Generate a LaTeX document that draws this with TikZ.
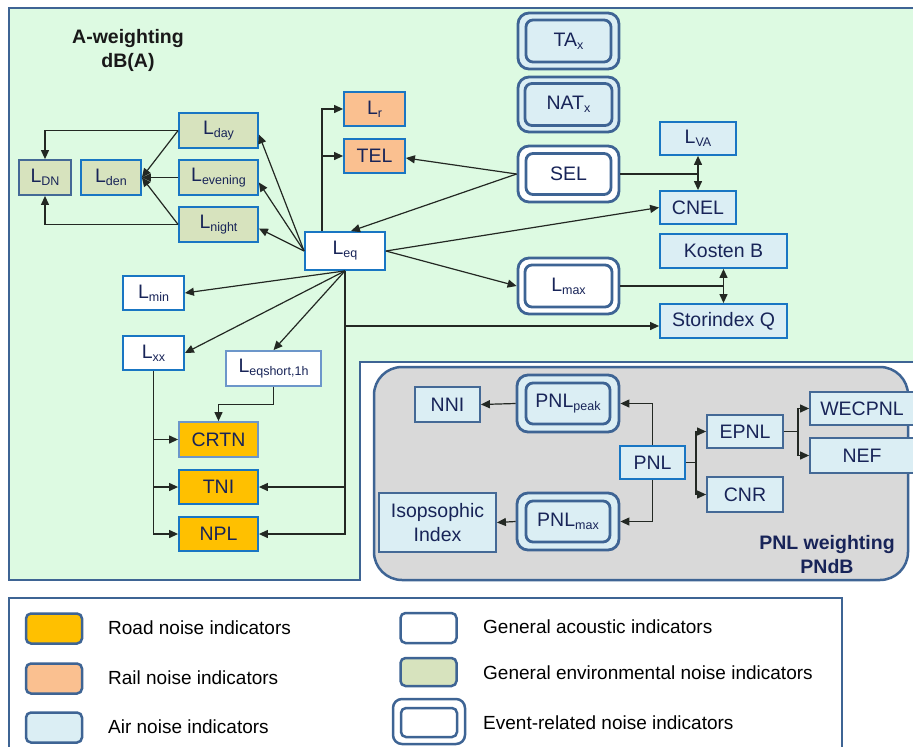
\documentclass[tikz,border=0pt]{standalone}
\usepackage{fontspec}
\setmainfont{Liberation Sans}
\usetikzlibrary{arrows.meta,calc}
\definecolor{bggreen}{RGB}{221,250,226}
\definecolor{reg}{RGB}{62,100,148}
\definecolor{graybg}{RGB}{217,217,217}
\definecolor{bblue}{RGB}{25,118,195}
\definecolor{lblue}{RGB}{108,150,202}
\definecolor{steel}{RGB}{68,105,150}
\definecolor{navy}{RGB}{24,36,88}
\definecolor{envf}{RGB}{215,227,190}
\definecolor{railf}{RGB}{250,192,144}
\definecolor{roadf}{RGB}{255,192,0}
\definecolor{airf}{RGB}{219,238,244}
\definecolor{linec}{RGB}{35,40,35}
\newcommand{\sbs}[1]{\raisebox{-3pt}{\fontsize{12.5}{13}\selectfont #1}}
\begin{document}
\begin{tikzpicture}[x=1pt,y=-1pt,
  box/.style={draw, rectangle, inner sep=0pt, line width=1.8pt, text=navy, font=\fontsize{19.5}{22}\selectfont, align=center},
  bb/.style={box, draw=bblue},
  lb/.style={box, draw=lblue},
  sb/.style={box, draw=steel},
  evo/.style={draw=reg, rectangle, line width=2.8pt, rounded corners=11pt, inner sep=0pt},
  evi/.style={draw=reg, rectangle, line width=2.8pt, rounded corners=7pt, inner sep=0pt, text=navy, font=\fontsize{19.5}{22}\selectfont},
  arr/.style={draw=linec, line width=1.2pt, -{Triangle[length=9pt,width=8pt]}},
  dbl/.style={draw=linec, line width=1.2pt, {Triangle[length=9pt,width=8pt]}-{Triangle[length=9pt,width=8pt]}},
  ln/.style={draw=linec, line width=1.2pt},
  sw/.style={draw=reg, rectangle, line width=2.5pt, rounded corners=5pt, minimum width=56pt, minimum height=30pt, inner sep=0pt},
  lg/.style={anchor=west, font=\fontsize{19}{22}\selectfont, text=black, inner sep=0pt},
  ttl/.style={font=\bfseries\fontsize{19.5}{24}\selectfont, align=center, inner sep=0pt}
]
\useasboundingbox (0,0) rectangle (913,747);
\clip (0,0) rectangle (913,747);
\fill[white] (0,0) rectangle (913,747);
% regions
\fill[bggreen] (9,8) -- (920,8) -- (920,362) -- (360,362) -- (360,580) -- (9,580) -- cycle;
\draw[reg, line width=2.5pt] (920,8) -- (9,8) -- (9,580) -- (360,580) -- (360,362) -- (920,362);
\draw[reg, line width=2.5pt, fill=graybg, rounded corners=28pt] (374,367) rectangle (908,580);
\draw[reg, line width=2.5pt] (9,598) rectangle (842,770);

\node[ttl, text=black!90] (tA) at (128,50) {A-weighting\\dB(A)};
\node[ttl, text=navy] (tP) at (827,555) {PNL weighting\\PNdB};

% A-weighting nodes
\node[sb, fill=envf, minimum width=52pt, minimum height=35pt] (ldn) at (45,177.5) {L\sbs{DN}};
\node[bb, fill=envf, minimum width=60pt, minimum height=35pt] (lden) at (111,177.5) {L\sbs{den}};
\node[bb, fill=envf, minimum width=79pt, minimum height=35pt] (lday) at (218.5,130.5) {L\sbs{day}};
\node[bb, fill=envf, minimum width=79pt, minimum height=35pt] (leve) at (218.5,177.5) {L\sbs{evening}};
\node[bb, fill=envf, minimum width=79pt, minimum height=35pt] (lnight) at (218.5,224.5) {L\sbs{night}};
\node[bb, fill=railf, minimum width=61pt, minimum height=34pt] (lr) at (374.5,109) {L\sbs{r}};
\node[bb, fill=railf, minimum width=61pt, minimum height=34pt] (tel) at (374.5,156) {TEL};
\node[bb, fill=white, minimum width=80pt, minimum height=38pt] (leq) at (345,251) {L\sbs{eq}};
\node[bb, fill=white, minimum width=61pt, minimum height=34pt] (lmin) at (153.5,293) {L\sbs{min}};
\node[bb, fill=white, minimum width=61pt, minimum height=34pt] (lxx) at (153.5,353) {L\sbs{xx}};
\node[lb, fill=white, minimum width=95pt, minimum height=35pt] (leqs) at (273.5,368.5) {L\sbs{eqshort,1h}};
\node[lb, fill=roadf, minimum width=79pt, minimum height=35pt] (crtn) at (218.5,439.5) {CRTN};
\node[bb, fill=roadf, minimum width=79pt, minimum height=34pt] (tni) at (218.5,487) {TNI};
\node[bb, fill=roadf, minimum width=79pt, minimum height=34pt] (npl) at (218.5,534) {NPL};

% event nodes
\node[evo, fill=airf, minimum width=101pt, minimum height=56pt] (tax) at (568.5,41) {};
\node[evi, fill=airf, minimum width=85pt, minimum height=42pt] (taxi) at (568.5,41) {TA\sbs{x}};
\node[evo, fill=airf, minimum width=101pt, minimum height=55pt] (natx) at (568.5,104.5) {};
\node[evi, fill=airf, minimum width=87pt, minimum height=42pt] (natxi) at (568.5,104.5) {NAT\sbs{x}};
\node[evo, fill=white, minimum width=101pt, minimum height=56pt] (sel) at (568.5,174) {};
\node[evi, fill=white, minimum width=85pt, minimum height=41pt] (seli) at (568.5,174) {SEL};
\node[evo, fill=white, minimum width=101pt, minimum height=56pt] (lmax) at (568.5,286) {};
\node[evi, fill=white, minimum width=87pt, minimum height=42pt] (lmaxi) at (568.5,286) {L\sbs{max}};

% air nodes (top right)
\node[bb, fill=airf, minimum width=76pt, minimum height=33pt] (lva) at (698,138.5) {L\sbs{VA}};
\node[bb, fill=airf, minimum width=76pt, minimum height=33pt] (cnel) at (698,207.5) {CNEL};
\node[bb, fill=airf, minimum width=127pt, minimum height=34pt] (kost) at (723.5,251) {Kosten B};
\node[bb, fill=airf, minimum width=127pt, minimum height=34pt] (stor) at (723.5,321) {Storindex Q};

% PNL region
\node[sb, fill=airf, minimum width=65pt, minimum height=35pt] (nni) at (447.5,404.5) {NNI};
\node[evo, fill=airf, minimum width=102pt, minimum height=57pt] (pk) at (568,403.5) {};
\node[evi, fill=airf, minimum width=84pt, minimum height=41pt] (pki) at (568,403.5) {PNL\sbs{peak}};
\node[evo, fill=airf, minimum width=102pt, minimum height=57pt] (pm) at (568,521.5) {};
\node[evi, fill=airf, minimum width=84pt, minimum height=41pt] (pmi) at (568,521.5) {PNL\sbs{max}};
\node[bb, fill=airf, minimum width=65pt, minimum height=33pt] (pnl) at (652.5,462.5) {PNL};
\node[sb, fill=airf, minimum width=76pt, minimum height=33pt] (epnl) at (745,431.5) {EPNL};
\node[sb, fill=airf, minimum width=76pt, minimum height=35pt] (cnr) at (745,494.5) {CNR};
\node[sb, fill=airf, minimum width=104pt, minimum height=33pt] (wec) at (862,408.5) {WECPNL};
\node[sb, fill=airf, minimum width=104pt, minimum height=35pt] (nef) at (862,455.5) {NEF};
\node[sb, fill=airf, minimum width=117pt, minimum height=59pt, font=\fontsize{19.5}{24}\selectfont] (iso) at (437.5,522.5) {Isopsophic\\Index};

% connectors: environmental
\draw[arr] (lday.west) -| (ldn.north);
\draw[arr] (lnight.west) -| (ldn.south);
\draw[arr] (lday.west) -- (lden.east);
\draw[arr] (leve.west) -- (lden.east);
\draw[arr] (lnight.west) -- (lden.east);
\draw[arr] (leq.west) -- ([yshift=-4pt]lday.east);
\draw[arr] (leq.west) -- ([yshift=-5pt]leve.east);
\draw[arr] (leq.west) -- ([yshift=-4pt]lnight.east);
% rail
\coordinate (lrx) at ([xshift=-23pt]leq.north);
\draw[arr] (lrx) |- (lr.west);
\draw[arr] (lrx |- tel.west) -- (tel.west);
\draw[arr] (sel.west) -- ([yshift=-2pt]tel.east);
\draw[arr] (sel.west) -- ([xshift=6pt]leq.north);
% Leq right
\draw[arr] (leq.east) -- (cnel.west);
\draw[arr] (leq.east) -- (lmax.west);
\draw[ln] (sel.east) -- (sel.east -| lva.south);
\draw[dbl] (lva.south) -- (cnel.north);
\draw[ln] (lmax.east) -- (lmax.east -| kost.south);
\draw[dbl] (kost.south) -- (stor.north);
\coordinate (sq) at ([yshift=-5pt]stor.west);
\draw[arr] (leq.south |- sq) -- (sq);
% Leq down
\draw[arr] (leq.south) |- (npl.east);
\draw[arr] (leq.south |- tni.east) -- (tni.east);
\draw[arr] (leq.south) -- (lmin.east);
\draw[arr] (leq.south) -- (lxx.east);
\draw[arr] (leq.south) -- (leqs.north);
% road
\draw[arr] (lxx.south) |- (npl.west);
\draw[arr] (lxx.south |- crtn.west) -- (crtn.west);
\draw[arr] (lxx.south |- tni.west) -- (tni.west);
\draw[arr] (leqs.south) -- ++(0,17.5) -| (crtn.north);
% PNL
\draw[arr] (pnl.north) |- (pk.east);
\draw[arr] (pnl.south) |- (pm.east);
\draw[arr] (pnl.east) -- ++(10,0) |- (epnl.west);
\draw[arr] (pnl.east) -- ++(10,0) |- (cnr.west);
\draw[arr] (epnl.east) -- ++(14,0) |- (wec.west);
\draw[arr] (epnl.east) -- ++(14,0) |- (nef.west);
\draw[arr] (pk.west) -- (nni.east);
\draw[arr] (pm.west) -- (iso.east);

% legend
\node[sw, fill=roadf] (s1) at (54,628.5) {};
\node[sw, fill=railf] (s2) at (54,678.5) {};
\node[sw, fill=airf] (s3) at (54,727.5) {};
\node[sw, fill=white] (s4) at (428.5,628) {};
\node[sw, fill=envf, minimum height=28pt] (s5) at (428.5,672) {};
\node[sw, fill=white, minimum width=72pt, minimum height=45pt, rounded corners=9pt] (s6) at (429,721.5) {};
\node[sw, fill=white, minimum width=56pt, minimum height=29pt] (s6i) at (429,722.5) {};
\node[lg] (t1) at (108,628) {Road noise indicators};
\node[lg] (t2) at (108,678) {Rail noise indicators};
\node[lg] (t3) at (108,727) {Air noise indicators};
\node[lg] (t4) at (483,627) {General acoustic indicators};
\node[lg] (t5) at (483,673) {General environmental noise indicators};
\node[lg] (t6) at (483,723) {Event-related noise indicators};
\end{tikzpicture}
\end{document}
